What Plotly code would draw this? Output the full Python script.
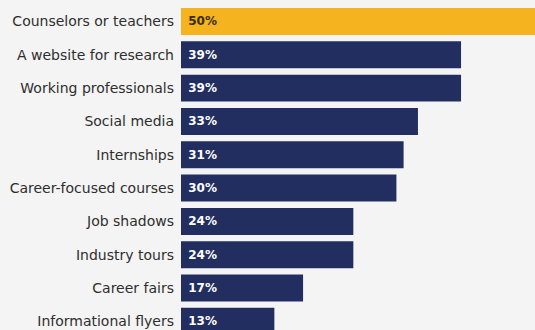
import plotly.graph_objects as go

categories = [
    "Counselors or teachers",
    "A website for research",
    "Working professionals",
    "Social media",
    "Internships",
    "Career-focused courses",
    "Job shadows",
    "Industry tours",
    "Career fairs",
    "Informational flyers",
]
values = [50, 39, 39, 33, 31, 30, 24, 24, 17, 13]

NAVY = "#222e60"
GOLD = "#f4b31f"
BG = "#f4f4f4"

bar_colors = [GOLD if i == 0 else NAVY for i in range(len(values))]
text_colors = ["#3a2c08" if i == 0 else "#ffffff" for i in range(len(values))]

fig = go.Figure(
    go.Bar(
        x=values,
        y=list(range(len(categories))),
        orientation="h",
        marker=dict(color=bar_colors, line=dict(width=0)),
        text=[f" {v}%" for v in values],
        textposition="inside",
        insidetextanchor="start",
        textfont=dict(family="DejaVu Sans", size=12, color=text_colors, weight="bold"),
        cliponaxis=True,
        hoverinfo="skip",
    )
)

fig.update_layout(
    width=535,
    height=330,
    margin=dict(l=181, r=0, t=0, b=0),
    paper_bgcolor=BG,
    plot_bgcolor=BG,
    bargap=0.19,
    showlegend=False,
    uniformtext=dict(minsize=12, mode="show"),
)
fig.update_xaxes(
    range=[0, 49.3],
    visible=False,
    showgrid=False,
    zeroline=False,
)
fig.update_yaxes(
    range=[9.26, -0.645],
    tickmode="array",
    tickvals=list(range(len(categories))),
    ticktext=categories,
    tickfont=dict(family="DejaVu Sans", size=14, color="#2e2e2e"),
    showgrid=False,
    zeroline=False,
    showline=False,
    ticks="",
    ticklabelstandoff=6,
)

fig.write_html("out.html")
